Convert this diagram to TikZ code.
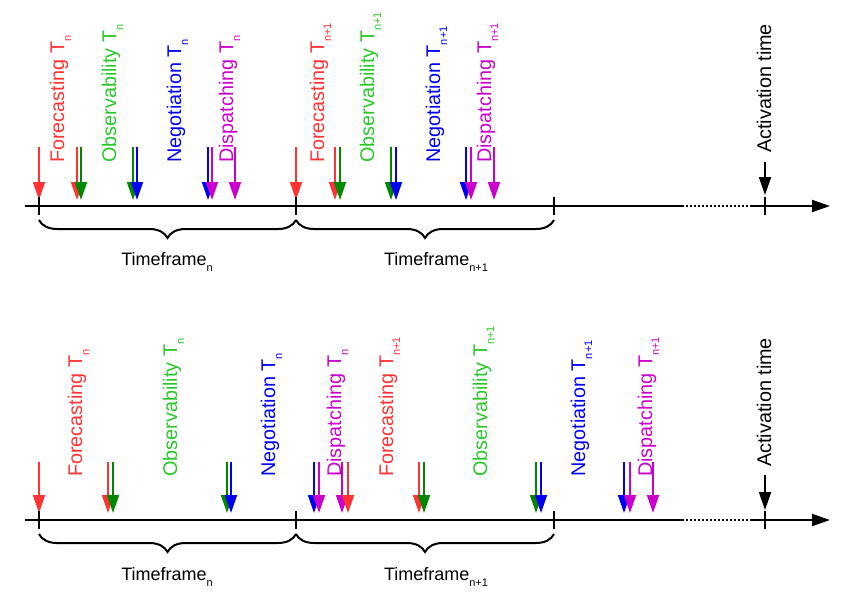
\documentclass[tikz,border=0pt]{standalone}
\usepackage{fontspec}
\setmainfont{Liberation Sans}
\usetikzlibrary{arrows.meta,decorations.pathreplacing}
\definecolor{cred}{RGB}{255,51,51}
\definecolor{cgreenT}{RGB}{40,200,40}
\definecolor{cgreenA}{RGB}{0,136,0}
\definecolor{cblue}{RGB}{0,0,240}
\definecolor{cmag}{RGB}{204,0,204}
\newcommand\sbs[1]{\raisebox{-0.36em}{\fontsize{11}{11}\selectfont #1}}
\begin{document}
\begin{tikzpicture}[x=1pt,y=-1pt,
  lbl/.style={rotate=90, anchor=base west, inner sep=0pt, font=\fontsize{19.8}{20}\selectfont},
  tfl/.style={anchor=base, inner sep=0pt, font=\fontsize{18}{18}\selectfont},
  evt/.style={line width=1.8pt, -{Triangle[width=12pt,length=18pt]}},
  act/.style={line width=2pt, -{Triangle[width=12pt,length=18pt]}},
  axisline/.style={line width=2pt},
  tickm/.style={line width=2pt},
  brc/.style={decorate, decoration={brace, mirror, amplitude=18pt}, line width=2pt}]
\useasboundingbox (0,0) rectangle (850,608);

% ---------- TOP ----------
\foreach \x/\c [count=\i] in {39/cred,77/cred,81/cgreenA,133/cgreenA,137/cblue,208/cblue,212/cmag,235/cmag,
  296/cred,335/cred,340/cgreenA,391/cgreenA,396/cblue,466/cblue,471/cmag,494/cmag}{
  \coordinate (ts\i) at (\x,147);
  \coordinate (te\i) at (\x,200);
  \draw[evt,\c] (ts\i) -- (te\i);
}
\coordinate (ta0) at (25,206);
\coordinate (ta1) at (682,206);
\coordinate (ta2) at (752,206);
\coordinate (ta3) at (830,206);
\draw[axisline] (ta0) -- (ta1);
\draw[axisline, dash pattern=on 2.2pt off 1.8pt] (ta1) -- (ta2);
\draw[axisline,-{Triangle[width=12pt,length=18pt]}] (ta2) -- (ta3);
\foreach \x [count=\i] in {39,296,554,765}{
  \coordinate (tk\i a) at (\x,197);
  \coordinate (tk\i b) at (\x,215);
  \draw[tickm] (tk\i a) -- (tk\i b);
}
\coordinate (tacs) at (765,162);
\coordinate (tace) at (765,195);
\draw[act] (tacs) -- (tace);

\node[lbl,text=cred]    (tl1) at (64,163)  {Forecasting T\sbs{n}};
\node[lbl,text=cgreenT] (tl2) at (116,163) {Observability T\sbs{n}};
\node[lbl,text=cblue]   (tl3) at (181,163) {Negotiation T\sbs{n}};
\node[lbl,text=cmag]    (tl4) at (233,163) {Dispatching T\sbs{n}};
\node[lbl,text=cred]    (tl5) at (324,163) {Forecasting T\sbs{n+1}};
\node[lbl,text=cgreenT] (tl6) at (374,163) {Observability T\sbs{n+1}};
\node[lbl,text=cblue]   (tl7) at (440,163) {Negotiation T\sbs{n+1}};
\node[lbl,text=cmag]    (tl8) at (491,163) {Dispatching T\sbs{n+1}};
\node[lbl]              (tl9) at (771,153) {Activation time};

\coordinate (tb1) at (39,220);
\coordinate (tb2) at (296,220);
\coordinate (tb3) at (554,220);
\draw[brc] (tb1) -- (tb2);
\draw[brc] (tb2) -- (tb3);
\node[tfl] (tf1) at (167,265) {Timeframe\sbs{n}};
\node[tfl] (tf2) at (436,265) {Timeframe\sbs{n+1}};

% ---------- BOTTOM ----------
\foreach \x/\c [count=\i] in {39/cred,108/cred,113/cgreenA,227/cgreenA,231/cblue,314/cblue,319/cmag,342/cmag,
  348/cred,419/cred,424/cgreenA,536/cgreenA,541/cblue,624/cblue,630/cmag,653/cmag}{
  \coordinate (bs\i) at (\x,462);
  \coordinate (be\i) at (\x,513);
  \draw[evt,\c] (bs\i) -- (be\i);
}
\coordinate (ba0) at (25,520);
\coordinate (ba1) at (682,520);
\coordinate (ba2) at (752,520);
\coordinate (ba3) at (830,520);
\draw[axisline] (ba0) -- (ba1);
\draw[axisline, dash pattern=on 2.2pt off 1.8pt] (ba1) -- (ba2);
\draw[axisline,-{Triangle[width=12pt,length=18pt]}] (ba2) -- (ba3);
\foreach \x [count=\i] in {39,296,554,765}{
  \coordinate (bk\i a) at (\x,511);
  \coordinate (bk\i b) at (\x,529);
  \draw[tickm] (bk\i a) -- (bk\i b);
}
\coordinate (bacs) at (765,475);
\coordinate (bace) at (765,510);
\draw[act] (bacs) -- (bace);

\node[lbl,text=cred]    (bl1) at (82,477)  {Forecasting T\sbs{n}};
\node[lbl,text=cgreenT] (bl2) at (177,477) {Observability T\sbs{n}};
\node[lbl,text=cblue]   (bl3) at (275,477) {Negotiation T\sbs{n}};
\node[lbl,text=cmag]    (bl4) at (341,477) {Dispatching T\sbs{n}};
\node[lbl,text=cred]    (bl5) at (393,477) {Forecasting T\sbs{n+1}};
\node[lbl,text=cgreenT] (bl6) at (487,477) {Observability T\sbs{n+1}};
\node[lbl,text=cblue]   (bl7) at (585,477) {Negotiation T\sbs{n+1}};
\node[lbl,text=cmag]    (bl8) at (652,477) {Dispatching T\sbs{n+1}};
\node[lbl]              (bl9) at (771,467) {Activation time};

\coordinate (bb1) at (39,534);
\coordinate (bb2) at (296,534);
\coordinate (bb3) at (554,534);
\draw[brc] (bb1) -- (bb2);
\draw[brc] (bb2) -- (bb3);
\node[tfl] (bf1) at (167,580) {Timeframe\sbs{n}};
\node[tfl] (bf2) at (436,580) {Timeframe\sbs{n+1}};
\end{tikzpicture}
\end{document}
